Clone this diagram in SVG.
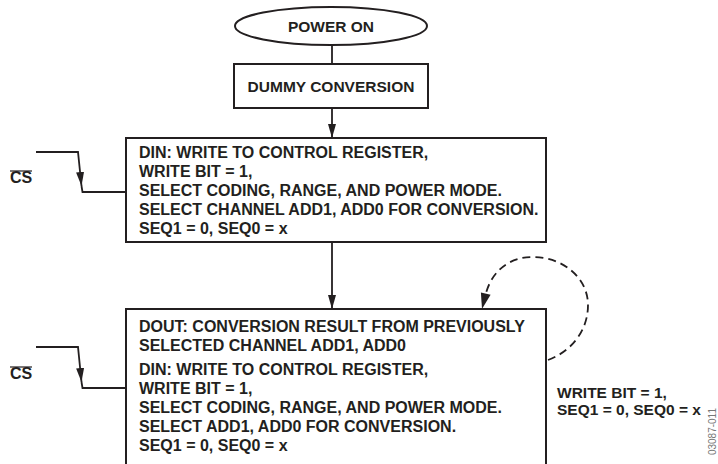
<svg xmlns="http://www.w3.org/2000/svg" width="718" height="464" viewBox="0 0 718 464">
<style>
.t{font-family:"Liberation Sans",Arial,sans-serif;font-weight:bold;font-size:16px;fill:#231f20}
.h{font-size:15.5px}
.c{text-anchor:middle}
.shape{fill:#fff;stroke:#231f20;stroke-width:2}
.ln{fill:none;stroke:#231f20;stroke-width:1.8}
.dash{fill:none;stroke:#231f20;stroke-width:1.8;stroke-dasharray:8 5}
.id{font-family:"Liberation Sans",Arial,sans-serif;font-size:10px;fill:#777}
</style>
<defs>
<marker id="ah" markerUnits="userSpaceOnUse" markerWidth="14" markerHeight="8" refX="14" refY="4" orient="auto">
<path d="M0,0 L14,4 L0,8 z" fill="#231f20"/>
</marker>
</defs>
<g id="connectors">
<line class="ln" x1="332" y1="45" x2="332" y2="64"/>
<line class="ln" x1="332" y1="108" x2="332" y2="138" marker-end="url(#ah)"/>
<line class="ln" x1="332" y1="242" x2="332" y2="309" marker-end="url(#ah)"/>
<polyline class="ln" points="36,152 78,152 81.5,186" marker-end="url(#ah)"/>
<polyline class="ln" points="81.5,186 82.5,192 126,192"/>
<polyline class="ln" points="36,347 78,347 81.5,382" marker-end="url(#ah)"/>
<polyline class="ln" points="81.5,382 82.5,388 126,388"/>
<path class="dash" d="M548,360 C570,352 588,332 588,305 C588,278 563,257 533,257 C508,257 492,272 486,293"/>
<polygon points="482,309 490.6,294.7 480.9,292.4" fill="#231f20"/>
</g>
<g id="power-on">
<ellipse class="shape" cx="331" cy="26" rx="96" ry="19"/>
<text class="t h c" x="331" y="32">POWER ON</text>
</g>
<g id="dummy-conversion">
<rect class="shape" x="234" y="64" width="194" height="44"/>
<text class="t h c" x="331" y="91.5">DUMMY CONVERSION</text>
</g>
<g id="box1">
<rect class="shape" x="126" y="138" width="420" height="104"/>
<text class="t" x="139" y="158">DIN: WRITE TO CONTROL REGISTER,</text>
<text class="t" x="139" y="177">WRITE BIT = 1,</text>
<text class="t" x="139" y="196">SELECT CODING, RANGE, AND POWER MODE.</text>
<text class="t" x="139" y="215">SELECT CHANNEL ADD1, ADD0 FOR CONVERSION.</text>
<text class="t" x="139" y="234">SEQ1 = 0, SEQ0 = x</text>
</g>
<g id="box2">
<rect class="shape" x="126" y="309" width="420" height="170"/>
<text class="t" x="139" y="332">DOUT: CONVERSION RESULT FROM PREVIOUSLY</text>
<text class="t" x="139" y="351">SELECTED CHANNEL ADD1, ADD0</text>
<text class="t" x="139" y="375">DIN: WRITE TO CONTROL REGISTER,</text>
<text class="t" x="139" y="394">WRITE BIT = 1,</text>
<text class="t" x="139" y="413">SELECT CODING, RANGE, AND POWER MODE.</text>
<text class="t" x="139" y="432">SELECT ADD1, ADD0 FOR CONVERSION.</text>
<text class="t" x="139" y="451">SEQ1 = 0, SEQ0 = x</text>
</g>
<g id="cs1">
<text class="t" x="10" y="183">CS</text>
<line x1="10" y1="171" x2="32" y2="171" stroke="#231f20" stroke-width="1.2"/>
</g>
<g id="cs2">
<text class="t" x="10" y="379">CS</text>
<line x1="10" y1="367" x2="32" y2="367" stroke="#231f20" stroke-width="1.2"/>
</g>
<g id="loop-label">
<text class="t h" x="557" y="398">WRITE BIT = 1,</text>
<text class="t h" x="557" y="415">SEQ1 = 0, SEQ0 = x</text>
</g>
<text class="id" transform="translate(716,408) rotate(-90)" text-anchor="end">03087-011</text>
</svg>
